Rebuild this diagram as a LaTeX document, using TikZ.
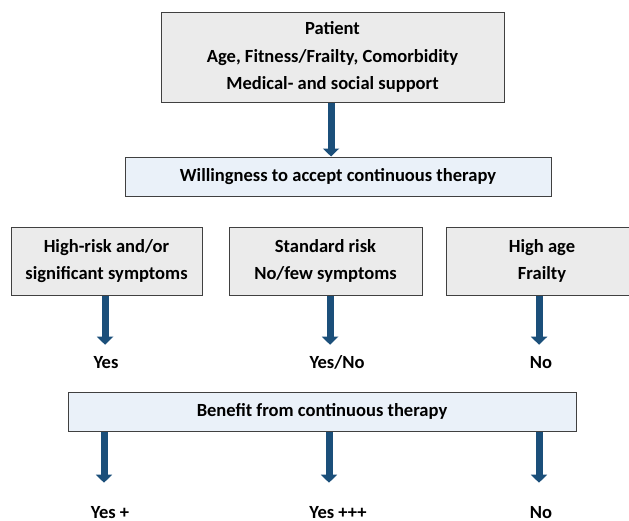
\documentclass[tikz,border=0pt]{standalone}
\usepackage{fontspec}
\setmainfont{Carlito}
\usetikzlibrary{arrows.meta, calc}
\definecolor{boxGray}{RGB}{235, 235, 235}
\definecolor{boxLine}{RGB}{64, 64, 64}
\definecolor{boxBlue}{RGB}{234, 241, 249}
\definecolor{flowBlue}{RGB}{27, 79, 122}

\begin{document}
\begin{tikzpicture}[
  x=0.75pt, y=-0.75pt,
  every node/.style={font=\bfseries\fontsize{13.9}{20.8}\selectfont},
  infobox/.style={
    rectangle,
    draw=boxLine,
    fill=boxGray,
    line width=0.75pt,
    align=center,
    inner sep=0pt
  },
  decbox/.style={
    infobox,
    fill=boxBlue,
    minimum height=29.25pt
  },
  answer/.style={inner sep=0pt, text height=9.5pt, text depth=0pt},
  flow/.style={
    draw=flowBlue,
    line width=5.25pt,
    -{Triangle[width=12pt, length=6pt]}
  }
]
  \useasboundingbox[fill=white] (0,0) rectangle (629,521);

  % ── Boîtes ─────────────────────────────────────────────────────
  \node[infobox, minimum width=257.25pt, minimum height=67.5pt] (patient) at (332.5, 57)
    {Patient\\Age, Fitness/Frailty, Comorbidity\\Medical- and social support};
  \node[decbox, minimum width=319.5pt] (willing) at (338, 176.5)
    {Willingness to accept continuous therapy};

  \node[infobox, minimum width=143.25pt, minimum height=51pt] (highrisk) at (106.5, 261)
    {High-risk and/or\\significant symptoms};
  \node[infobox, minimum width=144.75pt, minimum height=51pt] (stdrisk)  at (325.5, 261)
    {Standard risk\\No/few symptoms};
  \node[infobox, minimum width=144pt, minimum height=51pt]    (highage)  at (542, 261)
    {High age\\Frailty};

  \node[decbox, minimum width=381pt] (benefit) at (322, 411.5)
    {Benefit from continuous therapy};

  % ── Réponses ───────────────────────────────────────────────────
  \node[answer] (ansYes)   at (106, 362) {Yes};
  \node[answer] (ansMaybe) at (337, 362) {Yes/No};
  \node[answer] (ansNo)    at (541, 362) {No};

  \node[answer] (benLow)  at (110, 512.5) {Yes +};
  \node[answer] (benHigh) at (338, 512.5) {Yes +++};
  \node[answer] (benNo)   at (541, 512.5) {No};

  % ── Flèches ────────────────────────────────────────────────────
  \draw[flow] ([xshift=-1.1pt]patient.south) -- ([xshift=-1.1pt]patient.south |- willing.north);

  \draw[flow, shorten >=8pt] ([xshift=-1.1pt]highrisk.south) -- ([xshift=-1.1pt]highrisk.south |- ansYes.north);
  \draw[flow, shorten >=8pt] ([xshift=3.4pt]stdrisk.south)   -- ([xshift=3.4pt]stdrisk.south |- ansMaybe.north);
  \draw[flow, shorten >=8pt] ([xshift=-2.2pt]highage.south)  -- ([xshift=-2.2pt]highage.south |- ansNo.north);

  \draw[flow, shorten >=17.4pt] (benefit.south -| 104,0) -- (104,0 |- benLow.north);
  \draw[flow, shorten >=17.4pt] (benefit.south -| 329,0) -- (329,0 |- benHigh.north);
  \draw[flow, shorten >=17.4pt] (benefit.south -| 539,0) -- (539,0 |- benNo.north);

\end{tikzpicture}
\end{document}
